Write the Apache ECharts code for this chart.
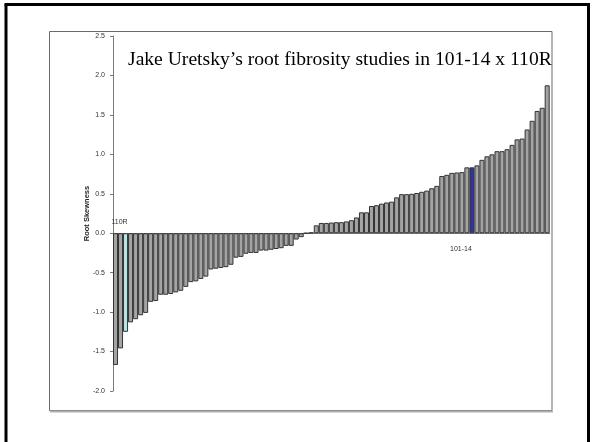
<!DOCTYPE html>
<html>
<head>
<meta charset="utf-8">
<script src="https://cdn.jsdelivr.net/npm/echarts@6/dist/echarts.min.js"></script>
<style>
  html, body { margin: 0; padding: 0; background: #ffffff; }
  #chart { width: 595px; height: 442px; }
</style>
</head>
<body>
<div id="chart"></div>
<script>
// ---- data ----
const titleText = 'Jake Uretsky\u2019s root fibrosity studies in 101-14 x 110R';
const yAxisName = 'Root Skewness';
const skewness = [
  -1.67, -1.46, -1.25, -1.13, -1.09, -1.04, -1.01, -0.87, -0.86, -0.78,
  -0.78, -0.77, -0.75, -0.73, -0.68, -0.62, -0.61, -0.58, -0.55, -0.46,
  -0.45, -0.44, -0.43, -0.40, -0.31, -0.30, -0.26, -0.25, -0.25, -0.22,
  -0.22, -0.21, -0.20, -0.19, -0.16, -0.16, -0.08, -0.05, 0.00, 0.01,
  0.10, 0.13, 0.13, 0.135, 0.14, 0.14, 0.15, 0.165, 0.20, 0.265,
  0.265, 0.345, 0.355, 0.375, 0.39, 0.40, 0.455, 0.495, 0.495, 0.50,
  0.51, 0.525, 0.54, 0.57, 0.60, 0.725, 0.74, 0.765, 0.77, 0.775,
  0.835, 0.835, 0.86, 0.93, 0.975, 1.00, 1.04, 1.04, 1.065, 1.12,
  1.19, 1.20, 1.315, 1.425, 1.55, 1.59, 1.875
];
const categories = skewness.map((_, i) => 'Line ' + (i + 1));
const highlightIndex = [2, 71];        // 110R parent, 101-14 parent
const highlightNames = ['110R', '101-14'];
const yMin = -2.0, yMax = 2.5, yStep = 0.5;

// ---- styles ----
const barGray = '#a4a4a4';
const highlightColors = ['#bfe3e3', '#333399'];
const sans = '"Liberation Sans", Arial, sans-serif';
const serif = '"Liberation Serif", "Times New Roman", serif';

const barData = skewness.map((v, i) => {
  const h = highlightIndex.indexOf(i);
  return h >= 0 ? { value: v, itemStyle: { color: highlightColors[h] } } : v;
});

const chart = echarts.init(document.getElementById('chart'), null, { renderer: 'canvas' });
chart.setOption({
  animation: false,
  backgroundColor: '#ffffff',
  title: {
    text: titleText,
    left: 128,
    top: 50,
    padding: 0,
    textStyle: { fontFamily: serif, fontSize: 19.6, fontWeight: 'normal', color: '#000000' }
  },
  graphic: [
    { type: 'rect', z: -10, shape: { x: 49.5, y: 31.5, width: 502.5, height: 379 },
      style: { fill: 'none', stroke: '#6a6a6a', lineWidth: 1 } },
    { type: 'line', z: -10, shape: { x1: 50, y1: 411.5, x2: 553, y2: 411.5 },
      style: { stroke: '#b0b0b0', lineWidth: 2 } },
    { type: 'line', shape: { x1: 6, y1: 4.5, x2: 6, y2: 442 }, style: { stroke: '#000', lineWidth: 3 } },
    { type: 'line', shape: { x1: 4.5, y1: 4.5, x2: 590, y2: 4.5 }, style: { stroke: '#000', lineWidth: 3 } },
    { type: 'line', shape: { x1: 588.5, y1: 4.5, x2: 588.5, y2: 442 }, style: { stroke: '#000', lineWidth: 3 } }
  ],
  grid: { left: 113, right: 45.3, top: 36, bottom: 51, containLabel: false },
  xAxis: {
    type: 'category',
    data: categories,
    boundaryGap: true,
    axisLine: { show: true, onZero: true, lineStyle: { color: '#7a7a7a', width: 1 } },
    axisTick: { show: false },
    axisLabel: { show: false },
    splitLine: { show: false }
  },
  yAxis: {
    type: 'value',
    min: yMin, max: yMax, interval: yStep,
    name: yAxisName,
    nameLocation: 'middle',
    nameGap: 22,
    nameMoveOverlap: false,
    nameTextStyle: { fontFamily: sans, fontSize: 7.5, fontWeight: 'bold', color: '#222' },
    axisLine: { show: true, lineStyle: { color: '#7a7a7a', width: 1 } },
    axisTick: { show: true, inside: false, length: 3, lineStyle: { color: '#7a7a7a' } },
    axisLabel: { fontFamily: sans, fontSize: 7, color: '#333', margin: 8,
      formatter: v => v.toFixed(1) },
    splitLine: { show: false }
  },
  series: [{
    type: 'bar',
    data: barData,
    barCategoryGap: '0%',
    itemStyle: { color: barGray, borderColor: '#333333', borderWidth: 1 },
    markPoint: {
      symbol: 'circle',
      symbolSize: 0,
      label: { show: true, position: 'inside', fontFamily: sans, fontSize: 7, color: '#333' },
      data: [
        { coord: [highlightIndex[0], 0], value: highlightNames[0],
          label: { formatter: highlightNames[0], offset: [-6, -11] } },
        { coord: [highlightIndex[1], 0], value: highlightNames[1],
          label: { formatter: highlightNames[1], offset: [-11, 16] } }
      ]
    }
  }]
});
</script>
</body>
</html>
